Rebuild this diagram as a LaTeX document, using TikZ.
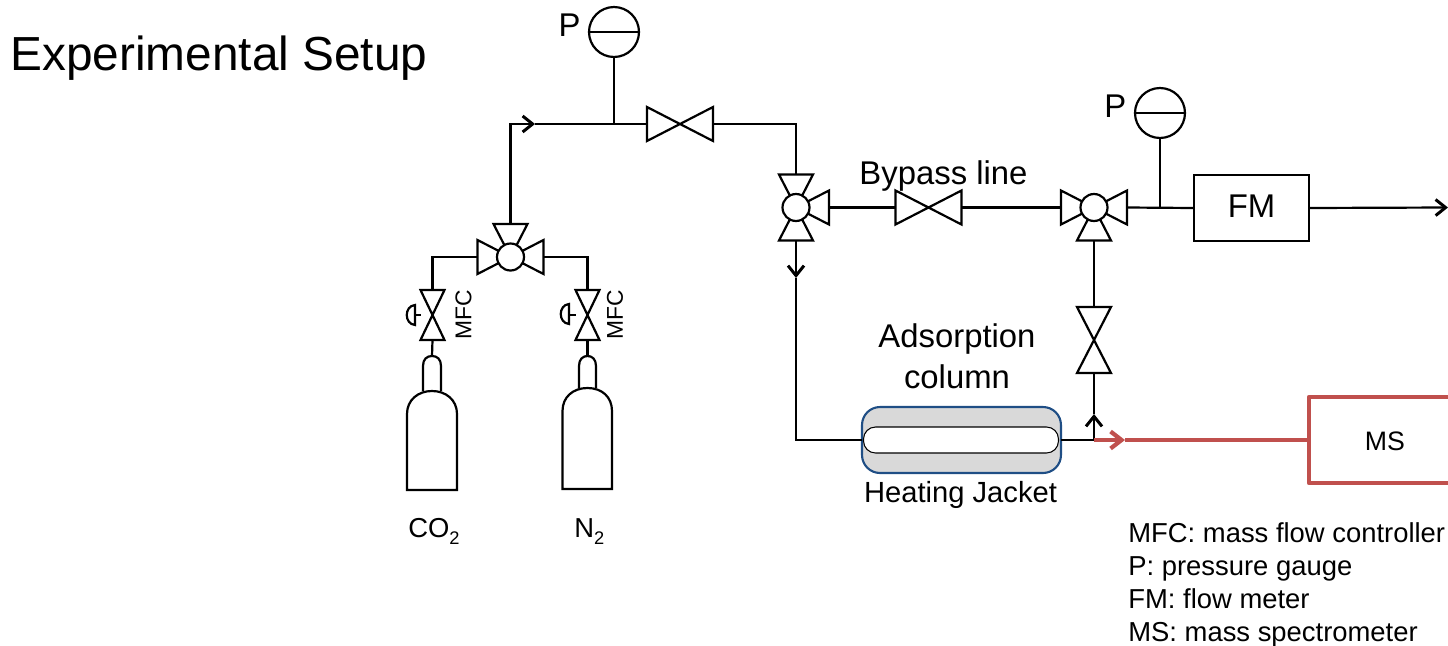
\documentclass[tikz,border=0pt]{standalone}
\usepackage{fontspec}
\setmainfont{Liberation Sans}
\usetikzlibrary{arrows.meta,positioning,calc}
\definecolor{msred}{HTML}{C0504D}
\definecolor{jacketblue}{HTML}{1F4E85}
\definecolor{jacketgrey}{HTML}{D9D9D9}
\newcommand{\subtwo}{\raisebox{-0.5ex}{\fontsize{10.4}{12}\selectfont 2}}
\tikzset{
  pipe/.style={line width=1.25pt},
  flow/.style={pipe,-{Straight Barb[length=2mm,width=3.2mm,line width=1.7pt]}},
  redflow/.style={line width=2.4pt,color=msred},
  hvalve/.style={minimum width=1.32cm,minimum height=0.68cm,inner sep=0pt,outer sep=0pt},
  vvalve/.style={minimum width=0.68cm,minimum height=1.32cm,inner sep=0pt,outer sep=0pt},
  mfcvalve/.style={minimum width=0.48cm,minimum height=1cm,inner sep=0pt,outer sep=0pt},
  gauge/.style={draw,circle,pipe,minimum size=1cm,inner sep=0pt,outer sep=0pt},
  teeball/.style={draw,circle,pipe,fill=white,minimum size=0.54cm,inner sep=0pt,outer sep=0pt},
  bigtxt/.style={font=\fontsize{18.7}{23.4}\selectfont,inner sep=0pt},
  midtxt/.style={font=\fontsize{16.6}{20}\selectfont,inner sep=0pt},
  mfctxt/.style={font=\fontsize{13}{15}\selectfont,inner sep=0pt,rotate=90},
  gastxt/.style={font=\fontsize{15.6}{19}\selectfont,inner sep=0pt,anchor=base west},
}

\begin{document}
\begin{tikzpicture}[x=0.02cm,y=-0.02cm]
\useasboundingbox (0,0) rectangle (1448,646);
\node[anchor=west,inner sep=0pt,font=\fontsize{27.2}{32}\selectfont] (title) at (10,58.5) {Experimental Setup};

% valves and instruments
\node[hvalve] (v1) at (680,124) {};
\node[hvalve] (v2) at (928.5,207.5) {};
\node[vvalve] (v3) at (1094,340) {};
\node[mfcvalve] (mfc1) at (432.5,315) {};
\node[mfcvalve] (mfc2) at (587.5,315) {};
\node[gauge] (pg1) at (614,32) {};
\node[gauge] (pg2) at (1160,113) {};
\node[draw,pipe,line width=0.9pt,minimum width=2.3cm,minimum height=1.32cm,inner sep=0pt,outer sep=0pt] (fm) at (1251.5,208) {};
\node[bigtxt] (fmtxt) at (1251.5,206) {FM};
\node[draw=jacketblue,fill=jacketgrey,line width=1.2pt,rounded corners=0.36cm,minimum width=3.98cm,minimum height=1.32cm,outer sep=0pt] (jacket) at (961.5,440) {};
\node[draw,fill=white,line width=0.6pt,rounded corners=0.24cm,minimum width=3.9cm,minimum height=0.52cm,outer sep=0pt] (col) at (961,440) {};
\foreach \v in {v1,v2}
  \draw[pipe] (\v.north west) -- (\v.south west) -- (\v.north east) -- (\v.south east) -- cycle;
\foreach \v in {v3,mfc1,mfc2}
  \draw[pipe] (\v.north west) -- (\v.north east) -- (\v.south west) -- (\v.south east) -- cycle;
\foreach \g in {pg1,pg2}
  \draw[pipe] (\g.west) -- (\g.east);

% three way valves
\coordinate (tw1) at (796,207.5);
\coordinate (tw2) at (1094,207.5);
\coordinate (tw3) at (510.5,257);
\foreach \v/\p/\dx/\dy in {tw1/n/0/-1,tw1/s/0/1,tw1/e/1/0,tw2/w/-1/0,tw2/e/1/0,tw2/s/0/1,tw3/w/-1/0,tw3/e/1/0,tw3/n/0/-1} {
  \coordinate (\v\p) at ($(\v)+(33*\dx,33*\dy)$);
  \draw[pipe] (\v) -- ($(\v\p)+(17*\dy,17*\dx)$) -- ($(\v\p)-(17*\dy,17*\dx)$) -- cycle;
}
\foreach \v in {tw1,tw2,tw3}
  \node[teeball] (\v-ball) at (\v) {};

% gas bottles
\coordinate (neck1) at (432,356);
\coordinate (neck2) at (587.5,356);
\draw[pipe,fill=white] (423,391) -- (423,366) .. controls (423,359) and (427,356) .. (neck1) .. controls (437,356) and (441,359) .. (441,366) -- (441,391);
\draw[pipe,fill=white] (579,388) -- (579,366) .. controls (579,359) and (583,356) .. (neck2) .. controls (592,356) and (596,359) .. (596,366) -- (596,388);
\draw[pipe,fill=white] (407,490) -- (407,414) .. controls (407,400) and (418,391) .. (432,391) .. controls (446,391) and (457,400) .. (457,414) -- (457,490) -- cycle;
\draw[pipe,fill=white] (562.5,489) -- (562.5,411) .. controls (562.5,397) and (573,388) .. (587.5,388) .. controls (602,388) and (612,397) .. (612,411) -- (612,489) -- cycle;

% MFC handles
\coordinate (hd1) at (415,315);
\coordinate (hd2) at (569,315);
\draw[pipe] (mfc1) -- (hd1);
\draw[pipe] (mfc2) -- (hd2);
\draw[pipe] (415,305) .. controls (404,306) and (404,324) .. (415,325) -- cycle;
\draw[pipe] (569,304) .. controls (558,305) and (558,323) .. (569,324) -- cycle;

% pipes
\coordinate (ar1) at (535,124);
\coordinate (ar2) at (796,278);
\coordinate (ar3) at (1094,414);
\coordinate (ar4) at (1125,440);
\coordinate (jn) at (1094,440);
\coordinate (out) at (1448,207.5);
\coordinate (msw) at (1309,440);
\draw[flow] (tw3n) |- (ar1);
\draw[pipe] (ar1) -- (v1.west);
\draw[pipe] (pg1.south) -- (pg1.south |- ar1);
\draw[pipe] (v1.east) -| (tw1n);
\draw[flow] (tw1s) -- (ar2);
\draw[pipe] (ar2) |- (jacket.west);
\draw[pipe] (tw1e) -- (v2.west);
\draw[pipe] (v2.east) -- (tw2w);
\draw[pipe] (tw2e) -- (fm.west);
\draw[pipe] (pg2.south) -- (pg2.south |- tw2e);
\draw[flow] (fm.east) -- (out);
\draw[pipe] (tw2s) -- (v3.north);
\draw[pipe] (v3.south) -- (ar3);
\draw[flow] (jn) -- (ar3);
\draw[pipe] (jacket.east) -- (jn);
\draw[pipe] (tw3w) -| (mfc1.north);
\draw[pipe] (tw3e) -| (mfc2.north);
\draw[pipe] (mfc1.south) -- (neck1);
\draw[pipe] (mfc2.south) -- (neck2);

% mass spectrometer branch
\draw[redflow,-{Straight Barb[length=2.2mm,width=3.4mm]}] (jn) -- (ar4);
\draw[redflow] (ar4) -- (msw);
\draw[line width=2.6pt,color=msred,line join=round] (1448,397) -- (1309,397) -- (1309,483) -- (1448,483);

% labels
\node[font=\fontsize{15.2}{18}\selectfont,inner sep=0pt] (ms) at (1385,441) {MS};
\node[bigtxt,left=0.16cm of pg1,yshift=0.14cm] (p1) {P};
\node[bigtxt,left=0.17cm of pg2,yshift=0.14cm] (p2) {P};
\node[bigtxt,above=-0.02cm of v2,xshift=0.3cm] (bypass) {Bypass line};
\node[bigtxt,align=center] (ads) at (957,356.5) {Adsorption\\column};
\node[midtxt,below=0.16cm of jacket,xshift=-0.02cm] (heat) {Heating Jacket};
\node[mfctxt] (mfct1) at (463.5,315) {MFC};
\node[mfctxt] (mfct2) at (615,315) {MFC};
\node[gastxt] (co2) at (408,537) {CO\subtwo};
\node[gastxt] (n2) at (574,537) {N\subtwo};
\node[font=\fontsize{15.6}{18.75}\selectfont,align=left,anchor=north west,inner sep=0pt] (legend) at (1128,522.5) {MFC: mass flow controller\\P: pressure gauge\\FM: flow meter\\MS: mass spectrometer};
\end{tikzpicture}
\end{document}
